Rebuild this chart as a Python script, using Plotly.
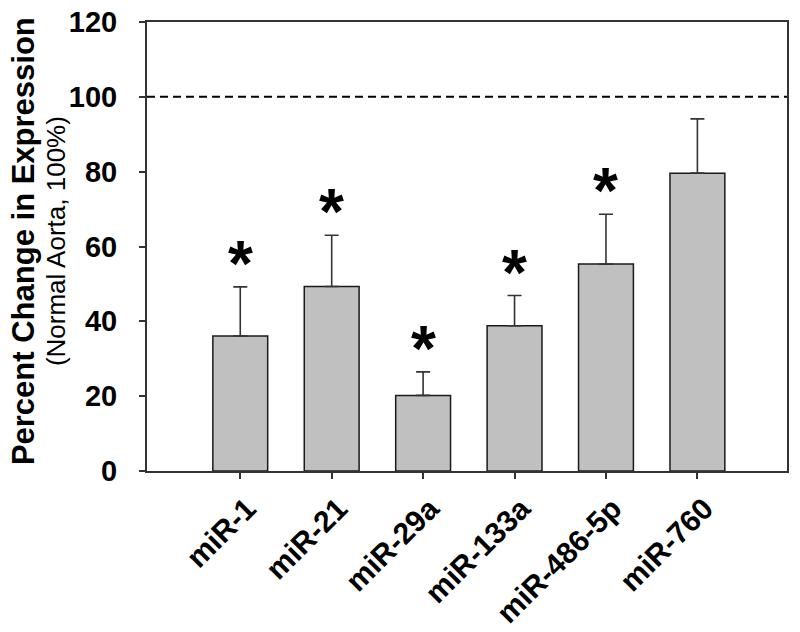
import plotly.graph_objects as go

categories = ["miR-1", "miR-21", "miR-29a", "miR-133a", "miR-486-5p", "miR-760"]
means = [36.1, 49.3, 20.2, 38.8, 55.3, 79.6]
err_plus = [13.1, 13.7, 6.3, 8.1, 13.3, 14.5]
significant = [True, True, True, True, True, False]
y_ticks = [0, 20, 40, 60, 80, 100, 120]
reference_level = 100

FONT = "Liberation Sans, Arial, sans-serif"
x_pos = list(range(len(categories)))

fig = go.Figure()
fig.add_trace(go.Bar(
    x=x_pos, y=means, width=0.6,
    marker=dict(color="#c0c0c0", line=dict(color="#1a1a1a", width=1.5)),
    error_y=dict(type="data", symmetric=False, array=err_plus,
                 arrayminus=[0] * len(means), color="#333333",
                 thickness=1.6, width=7),
    showlegend=False,
))

fig.add_shape(type="line", xref="paper", x0=0, x1=1, yref="y",
              y0=reference_level, y1=reference_level,
              line=dict(color="black", width=2, dash="8px,5px"))

annotations = []
for i, (m, e, s) in enumerate(zip(means, err_plus, significant)):
    if s:
        annotations.append(dict(x=i, y=m + e, xref="x", yref="y", text="<b>*</b>",
                                showarrow=False, yanchor="middle", yshift=23,
                                font=dict(family=FONT, size=64, color="black")))

annotations.append(dict(x=0, y=0.512, xref="paper", yref="paper",
                        text="<b>Percent Change in Expression</b>", textangle=-90,
                        showarrow=False, xanchor="center", yanchor="middle",
                        xshift=-124,
                        font=dict(family=FONT, size=31, color="black")))
annotations.append(dict(x=0, y=0.512, xref="paper", yref="paper",
                        text="(Normal Aorta, 100%)", textangle=-90,
                        showarrow=False, xanchor="center", yanchor="middle",
                        xshift=-91,
                        font=dict(family=FONT, size=26, color="black")))

fig.update_layout(
    width=800, height=632,
    margin=dict(l=147, r=13, t=22, b=161),
    plot_bgcolor="white", paper_bgcolor="white",
    font=dict(family=FONT, color="black"),
    annotations=annotations,
    bargap=0.4,
)
fig.update_xaxes(
    range=[-1.02, 5.98], tickmode="array", tickvals=x_pos, ticktext=categories,
    tickangle=-45, tickfont=dict(family=FONT, size=30, color="black", weight="bold"),
    ticklabelshift=7,
    showline=True, linecolor="#333333", linewidth=2, mirror=True,
    ticks="outside", ticklen=6, tickcolor="#333333", tickwidth=1.5,
    showgrid=False, zeroline=False, automargin=False,
)
fig.update_yaxes(
    range=[0, 120], tickmode="array", tickvals=y_ticks,
    tickfont=dict(family=FONT, size=29, color="black", weight="bold"),
    showline=True, linecolor="#333333", linewidth=2, mirror=True,
    ticks="outside", ticklen=6, tickcolor="#333333", tickwidth=1.5,
    ticklabelstandoff=16,
    showgrid=False, zeroline=False, automargin=False,
)

fig.write_html("out.html", config={"displayModeBar": False},
               post_script="document.body.style.margin='0px';")
